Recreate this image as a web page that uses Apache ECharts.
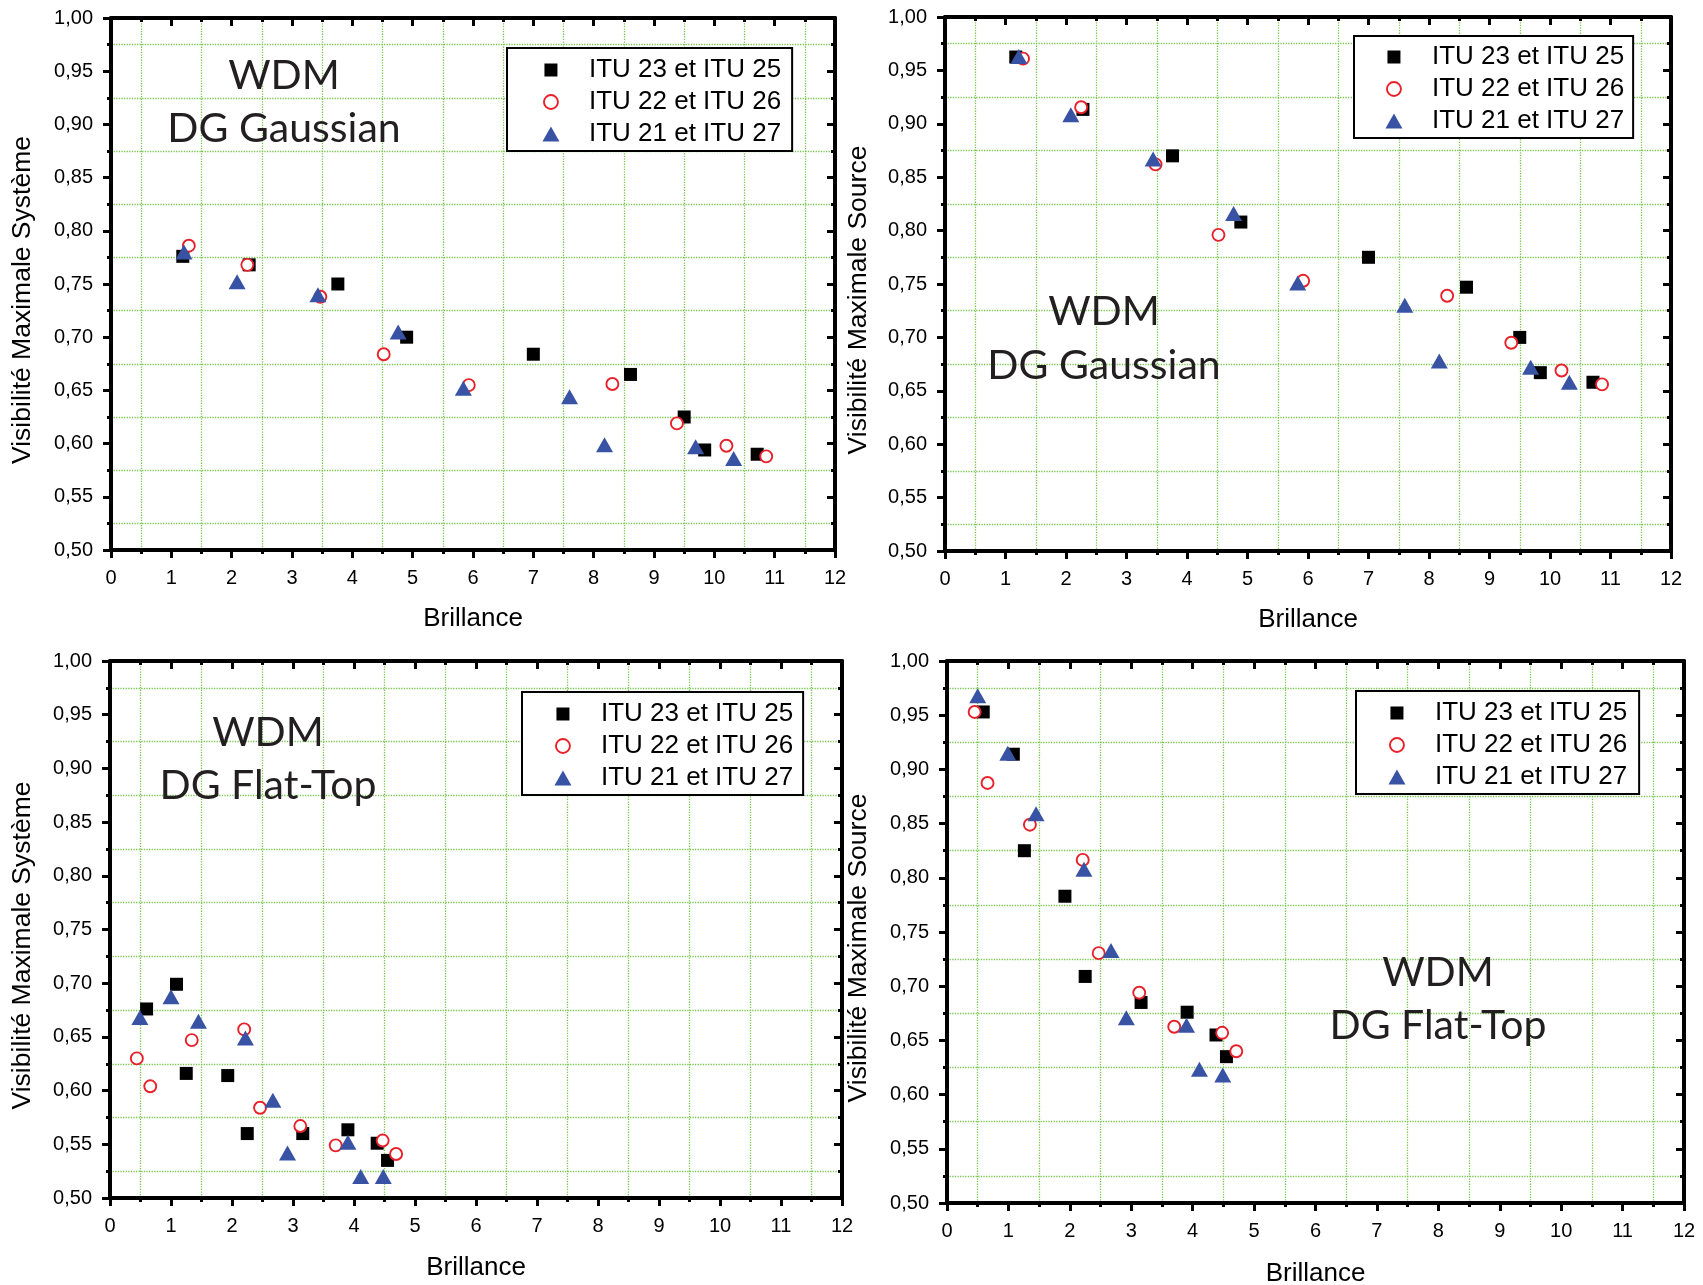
<!DOCTYPE html>
<html>
<head>
<meta charset="utf-8">
<script src="https://cdn.jsdelivr.net/npm/echarts@6/dist/echarts.min.js"></script>
<style>
html,body{margin:0;padding:0;background:#fff;}
#chart{width:1703px;height:1285px;}
</style>
</head>
<body>
<div id="chart"></div>
<script>
// ---------- Data ----------
const seriesNames = ['ITU 23 et ITU 25', 'ITU 22 et ITU 26', 'ITU 21 et ITU 27'];
const xTitle = 'Brillance';
const yTitles = ['Visibilité Maximale Système', 'Visibilité Maximale Source', 'Visibilité Maximale Système', 'Visibilité Maximale Source'];
const annotTop = ['WDM', 'WDM', 'WDM', 'WDM'];
const annotBottom = ['DG Gaussian', 'DG Gaussian', 'DG Flat-Top', 'DG Flat-Top'];

// Panel 1 : DG Gaussian - Système
const p1SqX = [1.19, 2.29, 3.76, 4.90, 7.00, 8.61, 9.50, 9.84, 10.71];
const p1SqY = [0.776, 0.768, 0.750, 0.700, 0.684, 0.665, 0.625, 0.594, 0.590];
const p1CiX = [1.29, 2.26, 3.47, 4.52, 5.93, 8.31, 9.38, 10.20, 10.86];
const p1CiY = [0.786, 0.768, 0.738, 0.684, 0.655, 0.656, 0.619, 0.598, 0.588];
const p1TrX = [1.21, 2.09, 3.43, 4.76, 5.84, 7.60, 8.18, 9.69, 10.32];
const p1TrY = [0.780, 0.752, 0.740, 0.705, 0.652, 0.644, 0.599, 0.597, 0.586];

// Panel 2 : DG Gaussian - Source
const p2SqX = [1.17, 2.28, 3.76, 4.89, 7.00, 8.62, 9.50, 9.84, 10.71];
const p2SqY = [0.9625, 0.9135, 0.870, 0.808, 0.775, 0.747, 0.700, 0.667, 0.658];
const p2CiX = [1.29, 2.25, 3.48, 4.52, 5.92, 8.30, 9.36, 10.19, 10.86];
const p2CiY = [0.961, 0.9155, 0.862, 0.796, 0.753, 0.739, 0.695, 0.669, 0.656];
const p2TrX = [1.22, 2.08, 3.44, 4.77, 5.83, 7.60, 8.17, 9.68, 10.32];
const p2TrY = [0.963, 0.9085, 0.867, 0.816, 0.751, 0.730, 0.678, 0.672, 0.658];

// Panel 3 : DG Flat-Top - Système
const p3SqX = [0.60, 1.09, 1.25, 1.93, 2.25, 3.16, 3.90, 4.38, 4.55];
const p3SqY = [0.676, 0.699, 0.616, 0.614, 0.560, 0.560, 0.5635, 0.551, 0.535];
const p3CiX = [0.44, 0.66, 1.34, 2.20, 2.46, 3.12, 3.70, 4.47, 4.69];
const p3CiY = [0.630, 0.604, 0.647, 0.657, 0.584, 0.567, 0.549, 0.5535, 0.541];
const p3TrX = [0.49, 1.00, 1.45, 2.22, 2.67, 2.91, 3.90, 4.11, 4.48];
const p3TrY = [0.668, 0.6875, 0.6645, 0.649, 0.591, 0.542, 0.552, 0.520, 0.520];

// Panel 4 : DG Flat-Top - Source
const p4SqX = [0.59, 1.08, 1.26, 1.92, 2.25, 3.16, 3.91, 4.38, 4.55];
const p4SqY = [0.953, 0.914, 0.825, 0.783, 0.709, 0.685, 0.676, 0.655, 0.635];
const p4CiX = [0.45, 0.66, 1.35, 2.21, 2.47, 3.13, 3.70, 4.48, 4.71];
const p4CiY = [0.953, 0.8875, 0.849, 0.8165, 0.7305, 0.694, 0.6626, 0.657, 0.640];
const p4TrX = [0.50, 0.99, 1.45, 2.23, 2.67, 2.92, 3.90, 4.11, 4.49];
const p4TrY = [0.968, 0.915, 0.859, 0.808, 0.733, 0.671, 0.664, 0.6235, 0.618];

const xMin = 0, xMax = 12, xStep = 1;
const yMin = 0.5, yMax = 1.0, yStep = 0.05;

// ---------- Layout / style ----------
const panels = [
  {grid:{left:111, top:18, width:724, height:532}, xGap:56, yGap:75,
   legend:{left:507, top:48, padding:[9,11,4,34]}, annot:[[284,75.5],[284,128.5]],
   data:[[p1SqX,p1SqY],[p1CiX,p1CiY],[p1TrX,p1TrY]]},
  {grid:{left:945, top:17, width:726, height:534}, xGap:56, yGap:73,
   legend:{left:1354, top:36, padding:[8,9,4,30]}, annot:[[1104,312],[1104,366]],
   data:[[p2SqX,p2SqY],[p2CiX,p2CiY],[p2TrX,p2TrY]]},
  {grid:{left:110, top:661, width:732, height:537}, xGap:57, yGap:74,
   legend:{left:522, top:692, padding:[9,10,4,31]}, annot:[[268,733],[268,786]],
   data:[[p3SqX,p3SqY],[p3CiX,p3CiY],[p3TrX,p3TrY]]},
  {grid:{left:947, top:661, width:737, height:542}, xGap:58, yGap:75,
   legend:{left:1356, top:691, padding:[9,12,4,31]}, annot:[[1438,973],[1438,1026]],
   data:[[p4SqX,p4SqY],[p4CiX,p4CiY],[p4TrX,p4TrY]]}
];

const ARIAL = '"Liberation Sans", Arial, sans-serif';
const GRIDCOL = '#78c850';
const RED = '#e8202a';
const BLUE = '#3953a4';

const symbolStyles = [
  {symbol:'rect', symbolSize:13, itemStyle:{color:'#000', opacity:1}},
  {symbol:'circle', symbolSize:12, itemStyle:{color:'#fff', borderColor:RED, borderWidth:1.9, opacity:1}},
  {symbol:'triangle', symbolSize:[17,15], itemStyle:{color:BLUE, opacity:1}}
];
const legendIcons = [
  {icon:'path://M0,0M18,18M2.5,2.5H15.5V15.5H2.5Z', itemStyle:{color:'#000', borderWidth:0, opacity:1}},
  {icon:'path://M0,0M18,18M2,9A7,7,0,1,0,16,9A7,7,0,1,0,2,9Z', itemStyle:{color:'#fff', borderColor:RED, borderWidth:1.9, opacity:1}},
  {icon:'path://M0,0M18,18M0.5,16.5L9,1.5L17.5,16.5Z', itemStyle:{color:BLUE, borderWidth:0, opacity:1}}
];

function axisCommon(extra){
  return Object.assign({
    type:'value',
    axisLine:{show:true, onZero:false, lineStyle:{color:'#000', width:4}},
    axisTick:{show:true, length:8, lineStyle:{color:'#000', width:3}},
    minorTick:{show:true, splitNumber:2, length:4, lineStyle:{color:'#000', width:3}},
    splitLine:{show:false},
    minorSplitLine:{show:false},
    axisLabel:{show:false}
  }, extra);
}

const grids = [], xAxes = [], yAxes = [], series = [], legends = [], graphics = [];
panels.forEach((p, i) => {
  grids.push(Object.assign({outerBoundsMode:'none', containLabel:false}, p.grid));
  // bottom x
  xAxes.push(axisCommon({
    gridIndex:i, position:'bottom', min:xMin, max:xMax, interval:xStep,
    minorSplitLine:{show:true, lineStyle:{color:GRIDCOL, type:'dotted', width:1.3}},
    axisLabel:{show:true, margin:18, fontSize:20, color:'#000', fontFamily:ARIAL,
      formatter:v => String(v)},
    name:xTitle, nameLocation:'middle', nameGap:p.xGap,
    nameTextStyle:{fontSize:26, color:'#000', fontFamily:ARIAL}
  }));
  // top x
  xAxes.push(axisCommon({
    gridIndex:i, position:'top', min:xMin, max:xMax, interval:xStep,
    axisTick:{show:true, inside:true, length:8, lineStyle:{color:'#000', width:3}}
  }));
  // left y
  yAxes.push(axisCommon({
    gridIndex:i, position:'left', min:yMin, max:yMax, interval:yStep,
    minorSplitLine:{show:true, lineStyle:{color:GRIDCOL, type:'dotted', width:1.3}},
    axisLabel:{show:true, margin:18, fontSize:20, color:'#000', fontFamily:ARIAL,
      formatter:v => v.toFixed(2).replace('.', ',')},
    name:yTitles[i], nameLocation:'middle', nameGap:p.yGap,
    nameTextStyle:{fontSize:26.5, color:'#000', fontFamily:ARIAL, padding:[0,32,0,0]}
  }));
  // right y
  yAxes.push(axisCommon({
    gridIndex:i, position:'right', min:yMin, max:yMax, interval:yStep,
    axisTick:{show:true, inside:true, length:8, lineStyle:{color:'#000', width:3}}
  }));
  p.data.forEach((d, k) => {
    const xs = d[0], ys = d[1];
    series.push(Object.assign({
      type:'scatter', name:seriesNames[k],
      xAxisIndex:2*i, yAxisIndex:2*i,
      data:xs.map((x, j) => [x, ys[j]]),
      z:2+k
    }, JSON.parse(JSON.stringify(symbolStyles[k]))));
  });
  legends.push({
    orient:'vertical', left:p.legend.left, top:p.legend.top, padding:p.legend.padding,
    borderColor:'#000', borderWidth:2, backgroundColor:'#fff',
    itemWidth:18, itemHeight:18, itemGap:6, selectedMode:false,
    textStyle:{fontSize:26, color:'#000', fontFamily:ARIAL, padding:[0,0,0,24]},
    data:seriesNames.map((n, k) => Object.assign({name:n}, legendIcons[k]))
  });
  graphics.push({type:'text', x:p.annot[0][0], y:p.annot[0][1], z:10,
    style:{text:annotTop[i], fill:'#231f20', font:'41px Lato, "Open Sans", sans-serif',
      textAlign:'center', textVerticalAlign:'middle'}});
  graphics.push({type:'text', x:p.annot[1][0], y:p.annot[1][1], z:10,
    style:{text:annotBottom[i], fill:'#231f20', font:'41px Lato, "Open Sans", sans-serif',
      textAlign:'center', textVerticalAlign:'middle'}});
});

const chart = echarts.init(document.getElementById('chart'), null, {renderer:'canvas'});
chart.setOption({
  animation:false,
  backgroundColor:'#fff',
  grid:grids, xAxis:xAxes, yAxis:yAxes, series:series, legend:legends,
  graphic:graphics
});
</script>
</body>
</html>
